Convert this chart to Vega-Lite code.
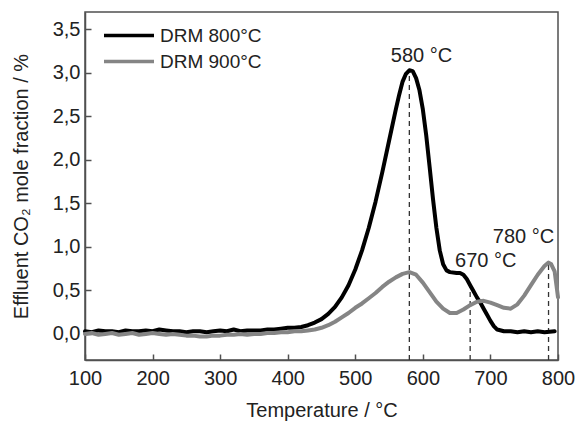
{
  "$schema": "https://vega.github.io/schema/vega-lite/v6.json",
  "width": 473,
  "height": 348,
  "autosize": {"type": "none"},
  "padding": {"left": 85, "top": 12, "right": 19, "bottom": 62},
  "background": "white",
  "config": {
    "locale": {"number": {"decimal": ",", "thousands": ".", "grouping": [3], "currency": ["", " €"]}},
    "font": "Liberation Sans",
    "view": {"stroke": "#505050", "strokeWidth": 1.5},
    "axis": {"grid": false, "domainColor": "#505050", "domainWidth": 1.5, "tickColor": "#505050", "tickWidth": 1.5, "labelColor": "#222222", "titleColor": "#222222", "labelFont": "Liberation Sans", "titleFont": "Liberation Sans", "labelFontSize": 20, "titleFontSize": 20, "titleFontWeight": "normal"},
    "legend": {"orient": "none", "legendX": 17, "legendY": 9, "symbolType": "M-1,0H3", "symbolSize": 625, "symbolStrokeWidth": 3.5, "labelFontSize": 19, "labelFont": "Liberation Sans", "labelColor": "#222222", "labelOffset": 29, "rowPadding": 1, "padding": 0, "title": null}
  },
  "datasets": {
    "curves": [
      {"series": "DRM 800°C", "T": 100, "v": 0.03}, {"series": "DRM 800°C", "T": 110, "v": 0.02}, {"series": "DRM 800°C", "T": 120, "v": 0.04}, {"series": "DRM 800°C", "T": 130, "v": 0.03}, {"series": "DRM 800°C", "T": 140, "v": 0.03}, {"series": "DRM 800°C", "T": 150, "v": 0.02}, {"series": "DRM 800°C", "T": 160, "v": 0.04}, {"series": "DRM 800°C", "T": 170, "v": 0.03}, {"series": "DRM 800°C", "T": 180, "v": 0.03}, {"series": "DRM 800°C", "T": 190, "v": 0.04}, {"series": "DRM 800°C", "T": 200, "v": 0.03}, {"series": "DRM 800°C", "T": 210, "v": 0.05}, {"series": "DRM 800°C", "T": 220, "v": 0.04}, {"series": "DRM 800°C", "T": 230, "v": 0.03}, {"series": "DRM 800°C", "T": 240, "v": 0.03}, {"series": "DRM 800°C", "T": 250, "v": 0.02}, {"series": "DRM 800°C", "T": 260, "v": 0.03}, {"series": "DRM 800°C", "T": 270, "v": 0.03}, {"series": "DRM 800°C", "T": 280, "v": 0.02}, {"series": "DRM 800°C", "T": 290, "v": 0.03}, {"series": "DRM 800°C", "T": 300, "v": 0.04}, {"series": "DRM 800°C", "T": 310, "v": 0.03}, {"series": "DRM 800°C", "T": 320, "v": 0.05}, {"series": "DRM 800°C", "T": 330, "v": 0.03}, {"series": "DRM 800°C", "T": 340, "v": 0.04}, {"series": "DRM 800°C", "T": 350, "v": 0.04}, {"series": "DRM 800°C", "T": 360, "v": 0.04}, {"series": "DRM 800°C", "T": 370, "v": 0.05}, {"series": "DRM 800°C", "T": 380, "v": 0.05}, {"series": "DRM 800°C", "T": 390, "v": 0.06}, {"series": "DRM 800°C", "T": 400, "v": 0.07}, {"series": "DRM 800°C", "T": 410, "v": 0.07}, {"series": "DRM 800°C", "T": 420, "v": 0.08}, {"series": "DRM 800°C", "T": 430, "v": 0.10}, {"series": "DRM 800°C", "T": 440, "v": 0.13}, {"series": "DRM 800°C", "T": 450, "v": 0.17}, {"series": "DRM 800°C", "T": 460, "v": 0.23}, {"series": "DRM 800°C", "T": 470, "v": 0.31}, {"series": "DRM 800°C", "T": 480, "v": 0.42}, {"series": "DRM 800°C", "T": 490, "v": 0.56}, {"series": "DRM 800°C", "T": 500, "v": 0.74}, {"series": "DRM 800°C", "T": 510, "v": 0.96}, {"series": "DRM 800°C", "T": 520, "v": 1.22}, {"series": "DRM 800°C", "T": 530, "v": 1.52}, {"series": "DRM 800°C", "T": 540, "v": 1.86}, {"series": "DRM 800°C", "T": 550, "v": 2.22}, {"series": "DRM 800°C", "T": 560, "v": 2.58}, {"series": "DRM 800°C", "T": 565, "v": 2.75}, {"series": "DRM 800°C", "T": 570, "v": 2.90}, {"series": "DRM 800°C", "T": 575, "v": 2.99}, {"series": "DRM 800°C", "T": 580, "v": 3.03}, {"series": "DRM 800°C", "T": 585, "v": 3.02}, {"series": "DRM 800°C", "T": 590, "v": 2.94}, {"series": "DRM 800°C", "T": 595, "v": 2.80}, {"series": "DRM 800°C", "T": 600, "v": 2.58}, {"series": "DRM 800°C", "T": 605, "v": 2.28}, {"series": "DRM 800°C", "T": 610, "v": 1.92}, {"series": "DRM 800°C", "T": 615, "v": 1.55}, {"series": "DRM 800°C", "T": 620, "v": 1.22}, {"series": "DRM 800°C", "T": 625, "v": 0.96}, {"series": "DRM 800°C", "T": 630, "v": 0.80}, {"series": "DRM 800°C", "T": 635, "v": 0.73}, {"series": "DRM 800°C", "T": 640, "v": 0.71}, {"series": "DRM 800°C", "T": 650, "v": 0.70}, {"series": "DRM 800°C", "T": 655, "v": 0.70}, {"series": "DRM 800°C", "T": 660, "v": 0.68}, {"series": "DRM 800°C", "T": 665, "v": 0.63}, {"series": "DRM 800°C", "T": 670, "v": 0.56}, {"series": "DRM 800°C", "T": 675, "v": 0.49}, {"series": "DRM 800°C", "T": 680, "v": 0.42}, {"series": "DRM 800°C", "T": 685, "v": 0.36}, {"series": "DRM 800°C", "T": 690, "v": 0.29}, {"series": "DRM 800°C", "T": 695, "v": 0.22}, {"series": "DRM 800°C", "T": 700, "v": 0.15}, {"series": "DRM 800°C", "T": 705, "v": 0.09}, {"series": "DRM 800°C", "T": 710, "v": 0.05}, {"series": "DRM 800°C", "T": 720, "v": 0.03}, {"series": "DRM 800°C", "T": 730, "v": 0.03}, {"series": "DRM 800°C", "T": 740, "v": 0.02}, {"series": "DRM 800°C", "T": 750, "v": 0.03}, {"series": "DRM 800°C", "T": 760, "v": 0.02}, {"series": "DRM 800°C", "T": 770, "v": 0.03}, {"series": "DRM 800°C", "T": 780, "v": 0.02}, {"series": "DRM 800°C", "T": 795, "v": 0.03},
      {"series": "DRM 900°C", "T": 100, "v": 0.00}, {"series": "DRM 900°C", "T": 110, "v": 0.01}, {"series": "DRM 900°C", "T": 120, "v": -0.01}, {"series": "DRM 900°C", "T": 130, "v": 0.00}, {"series": "DRM 900°C", "T": 140, "v": 0.01}, {"series": "DRM 900°C", "T": 150, "v": -0.01}, {"series": "DRM 900°C", "T": 160, "v": 0.00}, {"series": "DRM 900°C", "T": 170, "v": 0.01}, {"series": "DRM 900°C", "T": 180, "v": -0.01}, {"series": "DRM 900°C", "T": 190, "v": 0.00}, {"series": "DRM 900°C", "T": 200, "v": 0.01}, {"series": "DRM 900°C", "T": 210, "v": 0.00}, {"series": "DRM 900°C", "T": 220, "v": -0.01}, {"series": "DRM 900°C", "T": 230, "v": 0.00}, {"series": "DRM 900°C", "T": 240, "v": -0.01}, {"series": "DRM 900°C", "T": 250, "v": -0.02}, {"series": "DRM 900°C", "T": 260, "v": -0.02}, {"series": "DRM 900°C", "T": 270, "v": -0.03}, {"series": "DRM 900°C", "T": 280, "v": -0.03}, {"series": "DRM 900°C", "T": 290, "v": -0.02}, {"series": "DRM 900°C", "T": 300, "v": -0.02}, {"series": "DRM 900°C", "T": 310, "v": -0.01}, {"series": "DRM 900°C", "T": 320, "v": -0.01}, {"series": "DRM 900°C", "T": 330, "v": 0.00}, {"series": "DRM 900°C", "T": 340, "v": -0.01}, {"series": "DRM 900°C", "T": 350, "v": 0.00}, {"series": "DRM 900°C", "T": 360, "v": 0.00}, {"series": "DRM 900°C", "T": 370, "v": 0.01}, {"series": "DRM 900°C", "T": 380, "v": 0.01}, {"series": "DRM 900°C", "T": 390, "v": 0.02}, {"series": "DRM 900°C", "T": 400, "v": 0.02}, {"series": "DRM 900°C", "T": 410, "v": 0.03}, {"series": "DRM 900°C", "T": 420, "v": 0.03}, {"series": "DRM 900°C", "T": 430, "v": 0.04}, {"series": "DRM 900°C", "T": 440, "v": 0.05}, {"series": "DRM 900°C", "T": 450, "v": 0.07}, {"series": "DRM 900°C", "T": 460, "v": 0.10}, {"series": "DRM 900°C", "T": 470, "v": 0.14}, {"series": "DRM 900°C", "T": 480, "v": 0.19}, {"series": "DRM 900°C", "T": 490, "v": 0.24}, {"series": "DRM 900°C", "T": 500, "v": 0.30}, {"series": "DRM 900°C", "T": 510, "v": 0.35}, {"series": "DRM 900°C", "T": 520, "v": 0.41}, {"series": "DRM 900°C", "T": 530, "v": 0.47}, {"series": "DRM 900°C", "T": 540, "v": 0.54}, {"series": "DRM 900°C", "T": 550, "v": 0.60}, {"series": "DRM 900°C", "T": 560, "v": 0.65}, {"series": "DRM 900°C", "T": 570, "v": 0.69}, {"series": "DRM 900°C", "T": 580, "v": 0.71}, {"series": "DRM 900°C", "T": 590, "v": 0.68}, {"series": "DRM 900°C", "T": 600, "v": 0.59}, {"series": "DRM 900°C", "T": 610, "v": 0.48}, {"series": "DRM 900°C", "T": 620, "v": 0.37}, {"series": "DRM 900°C", "T": 630, "v": 0.29}, {"series": "DRM 900°C", "T": 640, "v": 0.24}, {"series": "DRM 900°C", "T": 650, "v": 0.24}, {"series": "DRM 900°C", "T": 660, "v": 0.28}, {"series": "DRM 900°C", "T": 670, "v": 0.33}, {"series": "DRM 900°C", "T": 680, "v": 0.37}, {"series": "DRM 900°C", "T": 690, "v": 0.38}, {"series": "DRM 900°C", "T": 700, "v": 0.36}, {"series": "DRM 900°C", "T": 710, "v": 0.33}, {"series": "DRM 900°C", "T": 720, "v": 0.30}, {"series": "DRM 900°C", "T": 730, "v": 0.29}, {"series": "DRM 900°C", "T": 740, "v": 0.34}, {"series": "DRM 900°C", "T": 750, "v": 0.44}, {"series": "DRM 900°C", "T": 760, "v": 0.56}, {"series": "DRM 900°C", "T": 770, "v": 0.68}, {"series": "DRM 900°C", "T": 780, "v": 0.78}, {"series": "DRM 900°C", "T": 786, "v": 0.82}, {"series": "DRM 900°C", "T": 790, "v": 0.80}, {"series": "DRM 900°C", "T": 795, "v": 0.72}, {"series": "DRM 900°C", "T": 800, "v": 0.42}
    ],
    "peaks": [
      {"T": 580, "base": -0.3, "top": 3.0},
      {"T": 670, "base": -0.3, "top": 0.55},
      {"T": 786, "base": -0.3, "top": 0.81}
    ],
    "labels": [
      {"label": "580 °C", "T": 598, "v": 3.12},
      {"label": "670 °C", "T": 693, "v": 0.77},
      {"label": "780 °C", "T": 749, "v": 1.04}
    ]
  },
  "layer": [
    {
      "data": {"name": "peaks"},
      "mark": {"type": "rule", "color": "#333333", "strokeWidth": 1.3, "strokeDash": [5, 4]},
      "encoding": {
        "x": {"field": "T", "type": "quantitative", "scale": {"domain": [100, 800], "nice": false, "zero": false},
          "axis": {"values": [100, 150, 200, 250, 300, 350, 400, 450, 500, 550, 600, 650, 700, 750, 800],
            "format": "d",
            "tickSize": {"condition": {"test": "datum.value % 100 !== 0", "value": -3.5}, "value": -6},
            "labelExpr": "datum.value % 100 === 0 ? datum.label : ''",
            "labelPadding": 14, "labelFlush": false, "labelOverlap": false, "title": "Temperature / °C", "titlePadding": 12}},
        "y": {"field": "base", "type": "quantitative", "scale": {"domain": [-0.3, 3.7], "nice": false, "zero": false},
          "axis": {"values": [0, 0.5, 1, 1.5, 2, 2.5, 3, 3.5],
            "format": ".1f",
            "tickSize": -6,
            "labelPadding": 11, "labelFlush": false, "labelOverlap": false, "title": "Effluent CO₂ mole fraction / %", "titlePadding": 21}},
        "y2": {"field": "top"}
      }
    },
    {
      "data": {"name": "curves"},
      "mark": {"type": "line", "strokeWidth": 4, "strokeJoin": "round", "strokeCap": "round"},
      "encoding": {
        "x": {"field": "T", "type": "quantitative"},
        "y": {"field": "v", "type": "quantitative"},
        "color": {"field": "series", "type": "nominal", "scale": {"domain": ["DRM 800°C", "DRM 900°C"], "range": ["#000000", "#858585"]}}
      }
    },
    {
      "data": {"name": "labels"},
      "mark": {"type": "text", "fontSize": 20, "font": "Liberation Sans", "color": "#222222", "align": "center", "baseline": "alphabetic"},
      "encoding": {
        "x": {"field": "T", "type": "quantitative"},
        "y": {"field": "v", "type": "quantitative"},
        "text": {"field": "label"}
      }
    }
  ]
}
